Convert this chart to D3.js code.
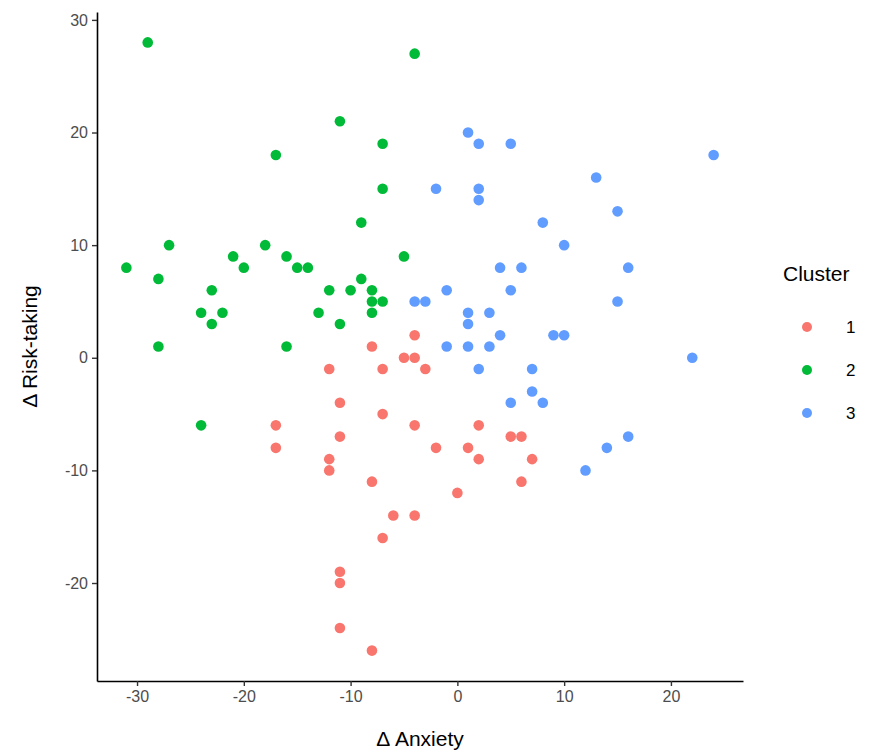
<!DOCTYPE html>
<html>
<head>
<meta charset="utf-8">
<script src="https://cdn.jsdelivr.net/npm/d3@7"></script>
<style>
  body { margin: 0; background: #fff; }
  svg { font-family: "Liberation Sans", Arial, sans-serif; }
</style>
</head>
<body>
<svg id="chart"></svg>
<script>
// Cluster 1 (red)
const cluster1 = [
  [-4, 2], [-8, 1], [-5, 0], [-4, 0], [-12, -1], [-7, -1], [-3, -1], [-11, -4],
  [-7, -5], [-17, -6], [-4, -6], [2, -6], [-11, -7], [5, -7], [6, -7], [-17, -8],
  [-2, -8], [1, -8], [-12, -9], [2, -9], [7, -9], [-12, -10], [-8, -11], [6, -11],
  [0, -12], [-6, -14], [-4, -14], [-7, -16], [-11, -19], [-11, -20], [-11, -24], [-8, -26]
];
// Cluster 2 (green)
const cluster2 = [
  [-29, 28], [-4, 27], [-11, 21], [-17, 18], [-7, 19], [-7, 15], [-9, 12], [-27, 10],
  [-18, 10], [-31, 8], [-21, 9], [-20, 8], [-16, 9], [-15, 8], [-14, 8], [-28, 7],
  [-23, 6], [-24, 4], [-23, 3], [-22, 4], [-12, 6], [-10, 6], [-8, 6], [-9, 7],
  [-8, 5], [-7, 5], [-8, 4], [-13, 4], [-11, 3], [-5, 9], [-28, 1], [-16, 1], [-24, -6]
];
// Cluster 3 (blue)
const cluster3 = [
  [1, 20], [2, 19], [5, 19], [24, 18], [13, 16], [-2, 15], [2, 15], [2, 14],
  [15, 13], [8, 12], [10, 10], [4, 8], [6, 8], [16, 8], [-1, 6], [5, 6],
  [-4, 5], [-3, 5], [15, 5], [1, 4], [3, 4], [1, 3], [4, 2], [9, 2],
  [10, 2], [-1, 1], [1, 1], [3, 1], [22, 0], [2, -1], [7, -1], [7, -3],
  [5, -4], [8, -4], [16, -7], [14, -8], [12, -10]
];
const clusterNames = ["1", "2", "3"];
const clusterColors = ["#F8766D", "#00BA38", "#619CFF"];
const xTicks = [-30, -20, -10, 0, 10, 20];
const yTicks = [-20, -10, 0, 10, 20, 30];

const width = 886, height = 752;
const margin = { top: 12, right: 143, bottom: 71, left: 97 };

const svg = d3.select("#chart").attr("width", width).attr("height", height);

const points = [cluster1, cluster2, cluster3].flatMap((arr, i) =>
  arr.map(d => ({ x: d[0], y: d[1], c: i })));

// ggplot-style 5% expansion
const xExt = d3.extent(points, d => d.x), yExt = d3.extent(points, d => d.y);
const xPad = (xExt[1] - xExt[0]) * 0.05, yPad = (yExt[1] - yExt[0]) * 0.05;

const x = d3.scaleLinear()
  .domain([xExt[0] - xPad, xExt[1] + xPad])
  .range([margin.left, width - margin.right]);
const y = d3.scaleLinear()
  .domain([yExt[0] - yPad, yExt[1] + yPad])
  .range([height - margin.bottom, margin.top]);

const fmt = d => String(d);

// axes
const xAxis = svg.append("g")
  .attr("transform", `translate(0,${height - margin.bottom})`)
  .call(d3.axisBottom(x).tickValues(xTicks).tickFormat(fmt)
    .tickSize(5).tickPadding(5).tickSizeOuter(0));
const yAxis = svg.append("g")
  .attr("transform", `translate(${margin.left},0)`)
  .call(d3.axisLeft(y).tickValues(yTicks).tickFormat(fmt)
    .tickSize(5).tickPadding(4).tickSizeOuter(0));

[xAxis, yAxis].forEach(a => {
  a.select(".domain").attr("stroke", "#000").attr("stroke-width", 1.6);
  a.selectAll(".tick line").attr("stroke", "#333").attr("stroke-width", 1.4);
  a.selectAll(".tick text").attr("fill", "#4d4d4d").style("font-size", "16px")
    .style("font-family", "'Liberation Sans', Arial, sans-serif");
});

// points
svg.append("g").selectAll("circle")
  .data(points)
  .join("circle")
  .attr("cx", d => x(d.x))
  .attr("cy", d => y(d.y))
  .attr("r", 5.3)
  .attr("fill", d => clusterColors[d.c]);

// axis titles
svg.append("text")
  .attr("x", (margin.left + width - margin.right) / 2)
  .attr("y", 746)
  .attr("text-anchor", "middle")
  .style("font-size", "21px")
  .attr("fill", "#000")
  .text("\u0394 Anxiety");

svg.append("text")
  .attr("transform", `translate(37,${(margin.top + height - margin.bottom) / 2}) rotate(-90)`)
  .attr("text-anchor", "middle")
  .style("font-size", "21px")
  .attr("fill", "#000")
  .text("\u0394 Risk-taking");

// legend
const legend = svg.append("g").attr("transform", "translate(778,0)");
legend.append("text")
  .attr("x", 5).attr("y", 281)
  .style("font-size", "21px")
  .attr("fill", "#000")
  .text("Cluster");

const rows = legend.selectAll(".row")
  .data(clusterNames)
  .join("g")
  .attr("class", "row")
  .attr("transform", (d, i) => `translate(0,${327 + i * 43})`);
rows.append("circle")
  .attr("cx", 29).attr("cy", 0).attr("r", 5)
  .attr("fill", (d, i) => clusterColors[i]);
rows.append("text")
  .attr("x", 68).attr("y", 6)
  .style("font-size", "17px")
  .attr("fill", "#000")
  .text(d => d);
</script>
</body>
</html>
